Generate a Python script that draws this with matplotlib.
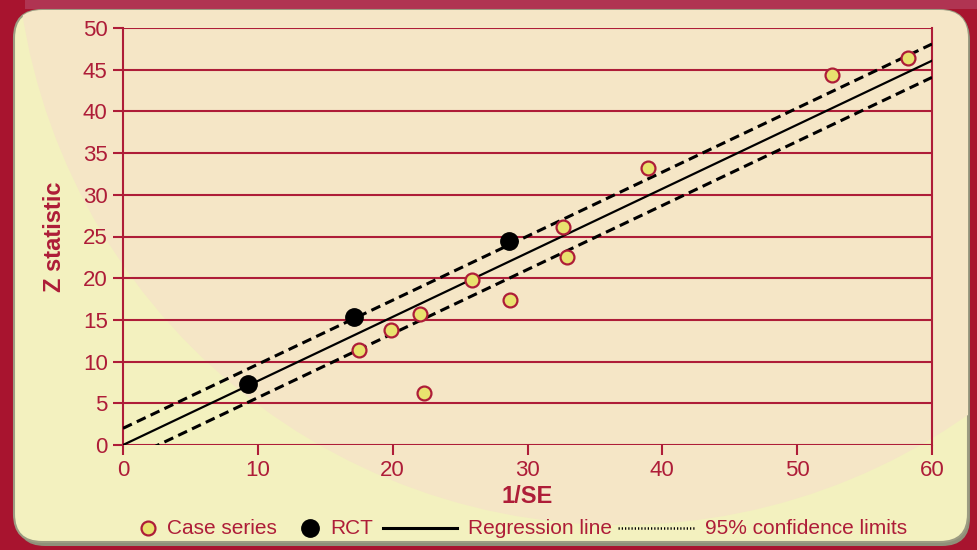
import matplotlib
matplotlib.use("Agg")
import matplotlib.pyplot as plt
from matplotlib.patches import FancyBboxPatch, Circle, Rectangle

plt.rcParams['font.family'] = ['Liberation Sans', 'DejaVu Sans']

# data
case_x = [17.5, 19.9, 22.0, 22.3, 25.9, 28.7, 32.6, 32.9, 38.9, 52.6, 58.2]
case_y = [11.4, 13.8, 15.7, 6.2, 19.8, 17.4, 26.1, 22.5, 33.2, 44.4, 46.4]
rct_x = [9.3, 17.1, 28.6]
rct_y = [7.3, 15.3, 24.5]
slope = 0.768
band = 2.0
xticks = [0, 10, 20, 30, 40, 50, 60]
yticks = [0, 5, 10, 15, 20, 25, 30, 35, 40, 45, 50]
labels = ['Case series', 'RCT', 'Regression line', '95% confidence limits']

red = '#AE1D38'
crimson = '#A8142F'
yellow = '#F3F1BF'
peach = '#F5E6C6'
dot_fill = '#E9E26F'

fig = plt.figure(figsize=(9.77, 5.5), dpi=100, facecolor=crimson)

# background panel, drawn in pixel coords
bg = fig.add_axes([0, 0, 1, 1], zorder=-5)
bg.set_xlim(0, 977)
bg.set_ylim(550, 0)
bg.axis('off')
bg.add_patch(Rectangle((25, 0), 960, 9, color='#B03452', lw=0))
shadow = FancyBboxPatch((17, 12), 953, 534, boxstyle='round,pad=0,rounding_size=28',
                        fc='#8F9079', ec='none')
bg.add_patch(shadow)
panel = FancyBboxPatch((14, 10), 954, 532, boxstyle='round,pad=0,rounding_size=28',
                       fc=yellow, ec='#9C9C82', lw=1.5)
bg.add_patch(panel)
glow = Circle((620, -80), 605, fc=peach, ec='none')
bg.add_patch(glow)
glow.set_clip_path(panel)

ax = fig.add_axes([123 / 977, 1 - 445 / 550, (932 - 123) / 977, (445 - 28) / 550])
ax.set_facecolor('none')
ax.set_xlim(0, 60)
ax.set_ylim(0, 50)

for y in yticks:
    ax.axhline(y, color=red, lw=1.5, zorder=1)
for s in ['left', 'right']:
    ax.spines[s].set_color(red)
    ax.spines[s].set_linewidth(1.5)
for s in ['top', 'bottom']:
    ax.spines[s].set_visible(False)

xs = [0, 60]
ax.plot(xs, [slope * x for x in xs], color='black', lw=1.6, zorder=3)
ax.plot(xs, [slope * x + band for x in xs], color='black', lw=2.2,
        dashes=(3.2, 1.8), zorder=3)
ax.plot(xs, [slope * x - band for x in xs], color='black', lw=2.2,
        dashes=(3.2, 1.8), zorder=3)

ax.plot(case_x, case_y, 'o', ms=10, mfc=dot_fill, mec=red, mew=1.6, zorder=4)
ax.plot(rct_x, rct_y, 'o', ms=12.5, color='black', zorder=4)

ax.set_xticks(xticks)
ax.set_yticks(yticks)
ax.tick_params(colors=red, labelcolor=red, labelsize=16, width=1.5, length=7, pad=4)
ax.set_xlabel('1/SE', color=red, fontsize=17, fontweight='bold', labelpad=3)
ax.set_ylabel('Z statistic', color=red, fontsize=17, fontweight='bold', labelpad=12)

# legend row along the bottom
ly = 528
bg.plot([148], [ly], 'o', ms=10, mfc=dot_fill, mec=red, mew=1.6)
bg.text(167, ly, labels[0], color=red, fontsize=15, va='center')
bg.plot([310], [ly], 'o', ms=12.5, color='black')
bg.text(330, ly, labels[1], color=red, fontsize=15, va='center')
bg.plot([383, 457], [ly, ly], color='black', lw=2.2)
bg.text(468, ly, labels[2], color=red, fontsize=15, va='center')
bg.plot([618, 695], [ly, ly], color='black', lw=1.8, ls=(0, (0.5, 0.8)))
bg.text(705, ly, labels[3], color=red, fontsize=15, va='center')

fig.savefig('out.png', dpi=100, facecolor=fig.get_facecolor())
